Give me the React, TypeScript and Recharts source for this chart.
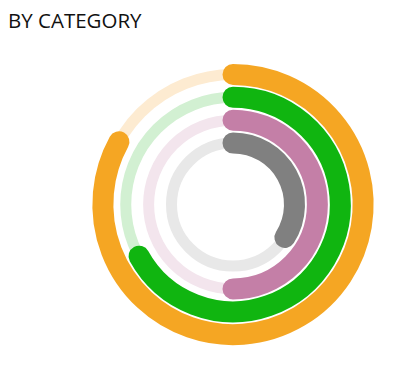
import { RadialBarChart, RadialBar, PolarAngleAxis } from 'recharts'

// inner ring first, outer ring last
const categories = ['Other', 'Services', 'Hardware', 'Software']
const values = [34, 50, 67, 83]
const colors = ['#808080', '#C47FA7', '#10B510', '#F5A623']
const trackColors = ['#E8E8E8', '#F3E5ED', '#D2F0D2', '#FDEBD1']

const RAD = Math.PI / 180

function polar(cx: number, cy: number, r: number, angle: number) {
  return { x: cx + r * Math.cos(-angle * RAD), y: cy + r * Math.sin(-angle * RAD) }
}

function RoundBar(props: any) {
  const { cx, cy, innerRadius, outerRadius, startAngle, endAngle, index } = props
  const r = (innerRadius + outerRadius) / 2
  const width = outerRadius - innerRadius
  const p1 = polar(cx, cy, r, startAngle)
  const p2 = polar(cx, cy, r, endAngle)
  const delta = Math.abs(startAngle - endAngle)
  const large = delta > 180 ? 1 : 0
  const sweep = startAngle > endAngle ? 1 : 0
  return (
    <g>
      <circle cx={cx} cy={cy} r={r} fill="none" stroke={trackColors[index]} strokeWidth={11} />
      <path
        d={`M ${p1.x} ${p1.y} A ${r} ${r} 0 ${large} ${sweep} ${p2.x} ${p2.y}`}
        fill="none"
        stroke={colors[index]}
        strokeWidth={width}
        strokeLinecap="round"
      />
    </g>
  )
}

export default function App() {
  const data = categories.map((name, i) => ({ name, value: values[i] }))

  return (
    <div style={{ width: 389, fontFamily: '"Segoe UI", "Open Sans", sans-serif' }}>
      <div style={{ height: 32, fontSize: 20.5, fontWeight: 500, lineHeight: '24px', color: '#111' }}>
        BY CATEGORY
      </div>
      <RadialBarChart
        width={389}
        height={325}
        data={data}
        cx={225}
        cy={164.5}
        innerRadius={50}
        outerRadius={141.5}
        startAngle={90}
        endAngle={-270}
        barSize={21}
      >
        <PolarAngleAxis type="number" domain={[0, 100]} tick={false} axisLine={false} />
        <RadialBar dataKey="value" shape={RoundBar} isAnimationActive={false} />
      </RadialBarChart>
    </div>
  )
}
